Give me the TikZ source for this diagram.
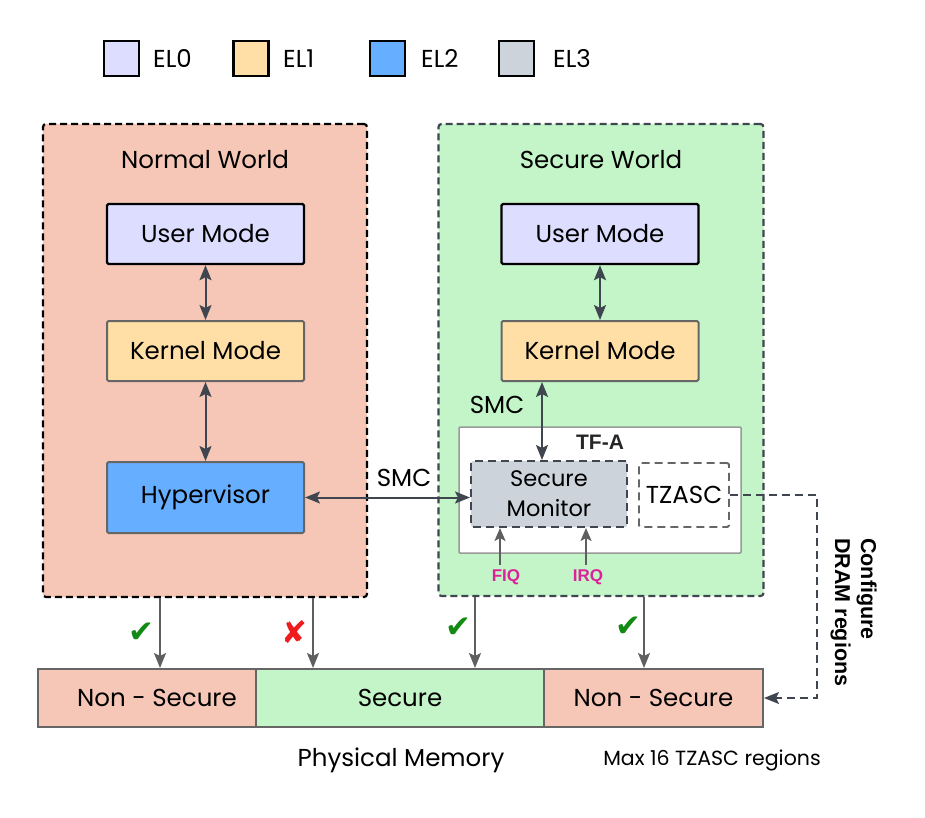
\documentclass[tikz,border=0pt]{standalone}
\usepackage{fontspec}
\setmainfont{Poppins}
\newfontfamily\boldf{Liberation Sans}
\newfontfamily\symf{DejaVu Sans}
\usetikzlibrary{arrows.meta}
\definecolor{nwfill}{HTML}{F6C7B6}
\definecolor{swfill}{HTML}{C3F5C8}
\definecolor{elzero}{HTML}{DDDDFF}
\definecolor{elone}{HTML}{FFDFA6}
\definecolor{eltwo}{HTML}{66AEFF}
\definecolor{elthree}{HTML}{CDD3DB}
\definecolor{darkline}{HTML}{3F4650}
\definecolor{greyline}{HTML}{5F5F5F}
\definecolor{boxgrey}{HTML}{666666}
\definecolor{tfgrey}{HTML}{999999}
\definecolor{magentaq}{HTML}{DD2299}
\definecolor{okgreen}{HTML}{138A13}
\definecolor{nored}{HTML}{EE1C1C}
\newcommand{\mainfs}{\fontsize{24.5}{30}\selectfont}
\newcommand{\smfs}{\fontsize{22.5}{30}\selectfont}
\newcommand{\smallfs}{\fontsize{20.5}{24}\selectfont}
\begin{document}
\begin{tikzpicture}[x=1pt,y=-1pt,
  legbox/.style={draw=black, line width=2.5pt, minimum width=35pt, minimum height=35pt, inner sep=0pt},
  legtext/.style={anchor=west, font=\mainfs, inner sep=0pt},
  world/.style={draw, line width=2.2pt, dash pattern=on 7pt off 4pt, rounded corners=3pt, inner sep=0pt},
  modebox/.style={draw=boxgrey, line width=2pt, minimum width=197pt, minimum height=60pt, rounded corners=1.5pt, inner sep=0pt, font=\mainfs},
  membox/.style={draw=boxgrey, line width=2pt, minimum height=58pt, inner sep=0pt, font=\mainfs},
  dblarr/.style={draw=darkline, line width=2pt, {Stealth[length=15pt,width=12pt,inset=3pt]}-{Stealth[length=15pt,width=12pt,inset=3pt]}},
  downarr/.style={draw=greyline, line width=1.8pt, -{Stealth[length=15pt,width=12pt,inset=3pt]}},
  irqarr/.style={draw=greyline, line width=1.8pt, -{Stealth[length=13pt,width=11pt,inset=3pt]}},
  irqtext/.style={text=magentaq, font=\boldf\bfseries\fontsize{17}{20}\selectfont, inner sep=0pt},
  tickmark/.style={font=\symf\fontsize{31}{34}\selectfont, inner sep=0pt}
]
\useasboundingbox (0,0) rectangle (925,818);

% legend
\node[legbox, fill=elzero] (l0) at (121.5,58.5) {};
\node[legtext] (t0) at (153,58.5) {EL0};
\node[legbox, fill=elone] (l1) at (251,58.5) {};
\node[legtext] (t1) at (283,58.5) {EL1};
\node[legbox, fill=eltwo] (l2) at (387.5,58.5) {};
\node[legtext] (t2) at (421,58.5) {EL2};
\node[legbox, fill=elthree] (l3) at (516.5,58.5) {};
\node[legtext] (t3) at (553,58.5) {EL3};

% worlds
\node[world, draw=black, fill=nwfill, minimum width=324pt, minimum height=473pt] (nw) at (205,360.5) {};
\node[world, draw=darkline, fill=swfill, minimum width=325pt, minimum height=472pt] (sw) at (601,360) {};
\node[font=\mainfs] (nwt) at (205,160) {Normal World};
\node[font=\mainfs] (swt) at (601,160) {Secure World};

% normal world boxes
\node[modebox, draw=black, line width=2.4pt, fill=elzero] (ul) at (205.5,234) {User Mode};
\node[modebox, fill=elone] (kl) at (205.5,351) {Kernel Mode};
\node[modebox, fill=eltwo, minimum height=71pt] (hyp) at (205.5,497.5) {Hypervisor};

% secure world boxes
\node[modebox, draw=black, line width=2.4pt, fill=elzero] (ur) at (600,234) {User Mode};
\node[modebox, fill=elone] (kr) at (600,351) {Kernel Mode};

% TF-A
\node[draw=tfgrey, line width=1.5pt, fill=white, minimum width=282pt, minimum height=126pt, inner sep=0pt, rounded corners=1pt] (tfa) at (600,490) {};
\node[font=\boldf\bfseries\fontsize{21}{24}\selectfont, text=black!85] (tfat) at (600,442) {TF-A};
\node[draw=darkline, line width=2pt, dash pattern=on 8pt off 5pt, fill=elthree, minimum width=156pt, minimum height=66pt, inner sep=0pt, rounded corners=1.5pt, align=center, font=\smfs] (sm) at (549,494) {Secure\\Monitor};
\node[draw=boxgrey, line width=1.8pt, dash pattern=on 8pt off 5pt, fill=white, minimum width=90pt, minimum height=64pt, inner sep=0pt, rounded corners=1.5pt, font=\mainfs] (tz) at (684,495) {TZASC};

% connectors inside worlds
\draw[dblarr] (ul) -- (kl);
\draw[dblarr] (kl) -- (hyp);
\draw[dblarr] (ur) -- (kr);
\draw[dblarr] (542,0 |- kr.south) -- (542,0 |- sm.north);
\draw[dblarr] (hyp.east) -- (hyp.east -| sm.west);
\node[font=\mainfs] (smc1) at (497,405) {SMC};
\node[font=\mainfs] (smc2) at (404,478) {SMC};

% FIQ / IRQ
\node[irqtext] (fiq) at (506,577) {FIQ};
\node[irqtext] (irq) at (588,577) {IRQ};
\draw[irqarr] (500,565) -- (500,0 |- sm.south);
\draw[irqarr] (586,565) -- (586,0 |- sm.south);

% memory
\node[membox, fill=nwfill, minimum width=218pt] (nsl) at (147,698) {\hspace*{20pt}Non - Secure};
\node[membox, fill=swfill, minimum width=288pt] (sec) at (400,698) {Secure};
\node[membox, fill=nwfill, minimum width=219pt] (nsr) at (653.5,698) {Non - Secure};
\node[font=\mainfs] (pm) at (401,760) {Physical Memory};
\node[font=\smallfs] (max) at (712,760) {Max 16 TZASC regions};

% down arrows
\draw[downarr] (160,0 |- nw.south) -- (160,0 |- nsl.north);
\draw[downarr] (313,0 |- nw.south) -- (313,0 |- sec.north);
\draw[downarr] (475,0 |- sw.south) -- (475,0 |- sec.north);
\draw[downarr] (644,0 |- sw.south) -- (644,0 |- nsr.north);
\node[tickmark, text=okgreen] (c1) at (141,633) {✔};
\node[tickmark, text=nored] (x1) at (294,632) {✘};
\node[tickmark, text=okgreen] (c2) at (458,628) {✔};
\node[tickmark, text=okgreen] (c3) at (628,627) {✔};

% TZASC configure
\draw[draw=darkline, line width=1.5pt, dash pattern=on 8pt off 5pt, -{Stealth[length=15pt,width=12pt,inset=3pt]}] (tz.east) -- (817,0 |- tz.east) -- (817,0 |- nsr.east) -- (nsr.east);
\node[rotate=-90, anchor=north west, align=left, font=\boldf\bfseries\fontsize{21.5}{26}\selectfont, inner sep=0pt] (cfg) at (877,538) {Configure\\DRAM regions};
\end{tikzpicture}
\end{document}
